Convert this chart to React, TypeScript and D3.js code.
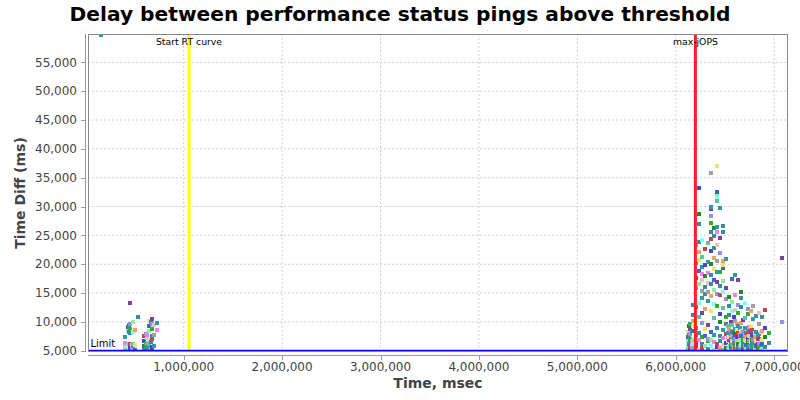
import React from "react";
import * as d3 from "d3";

const title = "Delay between performance status pings above threshold";
const xLabel = "Time, msec";
const yLabel = "Time Diff (ms)";

const xTicks = [1000000, 2000000, 3000000, 4000000, 5000000, 6000000, 7000000];
const yTicks = [5000, 10000, 15000, 20000, 25000, 30000, 35000, 40000, 45000, 50000, 55000];

const startRtCurve = 1054000;
const maxJops = 6200000;
const limitValue = 5000;

// sample times (ms) and the delays (ms) observed at each
const columnTimes = [
  160000,
  405000, 430000, 445000, 455000, 470000, 480000, 505000, 540000,
  600000, 615000, 625000, 650000, 665000, 675000, 700000, 725000,
  6120000, 6135000, 6150000, 6165000, 6180000, 6210000, 6240000, 6270000, 6300000, 6330000,
  6360000, 6390000, 6420000, 6450000, 6485000, 6515000, 6530000, 6545000, 6560000, 6575000,
  6590000, 6605000, 6620000, 6635000, 6650000, 6665000, 6680000, 6700000, 6715000, 6730000,
  6745000, 6760000, 6775000, 6790000, 6805000, 6820000, 6835000,
  6850000, 6865000, 6880000, 6910000, 6945000, 7085000,
];

const columnDelays: number[][] = [
  [59800],
  [5200, 5700, 6400, 7400],
  [5300, 5900, 8500, 9100],
  [5400, 6200, 8200, 9400],
  [5100, 5600, 6100, 8000, 8800, 9600, 13300],
  [5300, 5700, 6000],
  [5400, 5800, 6200, 8300, 9900],
  [5200, 6000, 8600],
  [10900],
  [5300, 5900, 6600, 7500],
  [5500, 6200, 7900],
  [5200, 5700, 6300, 7200, 7800],
  [5400, 6100, 6900, 8400, 9200, 10200],
  [5300, 6500, 9900],
  [5100, 5600, 7000, 7600, 8800, 9700, 10500],
  [5800, 7700, 9400],
  [8600, 9800],
  [5300, 5900, 6600, 7400, 8200],
  [5500, 6200, 7700, 9200],
  [5200, 5700, 6300, 7100, 7900, 8800, 9600],
  [5400, 6000, 6700, 8400],
  [5400, 6100, 6900, 8500, 9300, 10100, 11200, 12900],
  [5600, 6400, 7800, 9000, 12500, 15800, 17600, 20200, 23400],
  [5100, 6800, 8100, 10900, 13300, 16500, 18900, 20800, 22100, 23900, 26900, 28700, 33200],
  [5500, 6200, 7300, 9800, 11600, 14200, 15400, 17200, 18300, 19500, 21300, 24200],
  [5900, 7600, 8700, 12200, 14800, 16100, 17900, 19800, 22600],
  [5300, 6600, 7100, 9400, 13600, 15100, 16700, 18400, 20400, 23700],
  [5800, 6900, 8300, 11900, 14400, 16600, 18100, 20100, 22300, 24400, 25600, 27200, 28300, 29500, 30000, 35900],
  [5200, 6500, 7700, 10600, 13100, 15600, 17300, 19100, 21100, 22800, 24900, 26200],
  [5700, 6100, 8900, 12700, 14900, 16900, 18600, 20600, 23300, 25500, 26400, 31000, 31600, 32100, 32600, 37100],
  [5400, 6700, 7500, 9900, 11300, 14600, 16300, 18700, 21900, 24600, 29700],
  [5100, 6000, 7200, 8600, 12400, 15200, 17000, 19300, 19900, 20500, 25500, 26600],
  [5500, 6300, 7900, 9600, 10800, 13900, 15900, 20900],
  [5300, 6700, 7300, 8100, 9200],
  [5200, 5800, 6800, 7400, 8800, 11200, 12800, 14300],
  [5600, 6200, 7000, 7900, 8500, 9900],
  [5400, 6100, 6700, 7600, 8300, 9500, 11800, 13400, 17400],
  [5200, 5700, 6400, 7200, 8000, 10900],
  [5300, 5900, 6400, 7000, 7800, 8700, 10200, 12100, 14700, 18200],
  [5500, 6000, 6600, 7400, 8600, 9600],
  [5100, 5600, 6200, 7300, 8100, 9200, 11600, 13000, 17300],
  [5400, 5900, 6800, 7700, 8900],
  [5500, 6000, 6600, 7500, 8400, 9800, 12500, 14100, 15200],
  [5200, 5800, 6300, 7100, 8200, 10300],
  [5200, 5800, 6900, 7700, 9000, 10600, 13200],
  [5400, 6000, 6600, 7400, 8100],
  [5400, 6300, 7100, 8000, 8700, 11400, 12300],
  [5300, 5900, 6700, 7500, 9100],
  [5100, 5700, 6500, 7200, 8300, 9300, 11900],
  [5500, 6100, 6900, 7800, 8600],
  [5300, 6000, 6800, 7600, 10500, 12800],
  [5200, 5800, 6400, 7300, 8000],
  [5200, 5900, 6700, 7400, 8200, 11100],
  [5400, 6100, 7000, 7700],
  [5500, 6200, 7000, 7900, 9700, 11500],
  [5300, 5900, 6600, 8300],
  [5300, 6100, 6900, 8500, 10900],
  [5600, 7300, 8900, 12000],
  [6400, 8100],
  [9900, 21000],
];

const pointColors = [
  "#3a8c9c", "#5040d0", "#30b030", "#2c9aa8", "#f080f0", "#80ffff",
  "#e8e870", "#3a8c9c", "#c04848", "#9090f0", "#a0a0a0", "#2c9aa8",
  "#90f090", "#f0a060", "#208c20", "#3a8c9c", "#8040a0", "#f0c0c0",
  "#60c0a0", "#4060e0",
];

const W = 800;
const H = 400;
const plotLeft = 88;
const plotRight = 788;
const plotTop = 34;
const plotBottom = 352;
const font = "'DejaVu Sans', sans-serif";

export default function App() {
  const x = d3.scaleLinear().domain([27400, 7141000]).range([plotLeft, plotRight]);
  const y = d3.scaleLinear().domain([4775, 59916]).range([plotBottom, plotTop]);
  const fmt = d3.format(",");

  const points: { t: number; d: number; i: number }[] = [];
  let k = 0;
  columnTimes.forEach((t, ci) => {
    (columnDelays[ci] || []).forEach((d) => {
      points.push({ t, d, i: k++ });
    });
  });

  const size = 4;
  return (
    <svg width={W} height={H} style={{ position: "absolute", left: 0, top: 0, background: "#fff" }}>
      <defs>
        <clipPath id="plotClip">
          <rect x={plotLeft} y={plotTop} width={plotRight - plotLeft} height={plotBottom - plotTop} />
        </clipPath>
      </defs>
      <rect x={0} y={0} width={W} height={H} fill="#fff" />
      <text x={400} y={21} textAnchor="middle" fontFamily={font} fontWeight="bold" fontSize={20.2} fill="#000">
        {title}
      </text>

      {/* grid */}
      {xTicks.map((t) => (
        <line key={"gx" + t} x1={x(t)} x2={x(t)} y1={plotTop} y2={plotBottom} stroke="#d0d0d0" strokeWidth={1} strokeDasharray="2,2" />
      ))}
      {yTicks.map((t) => (
        <line key={"gy" + t} x1={plotLeft} x2={plotRight} y1={y(t)} y2={y(t)} stroke="#d0d0d0" strokeWidth={1} strokeDasharray="2,2" />
      ))}

      {/* points */}
      <g clipPath="url(#plotClip)">
        {points.map((p) => (
          <rect
            key={"p" + p.i}
            x={Math.round(x(p.t) - size / 2)}
            y={Math.round(y(p.d) - size / 2)}
            width={size}
            height={size}
            fill={pointColors[(p.i * 7 + 3) % pointColors.length]}
          />
        ))}
      </g>

      {/* markers */}
      <line x1={x(startRtCurve)} x2={x(startRtCurve)} y1={plotTop} y2={plotBottom} stroke="#ffff00" strokeWidth={3} />
      <line x1={x(maxJops)} x2={x(maxJops)} y1={plotTop} y2={plotBottom} stroke="#ff2020" strokeWidth={3} />
      <line x1={plotLeft} x2={plotRight} y1={y(limitValue)} y2={y(limitValue)} stroke="#0000ff" strokeWidth={2} />
      <text x={x(startRtCurve)} y={45} textAnchor="middle" fontFamily={font} fontSize={9.3} fill="#000">Start RT curve</text>
      <text x={x(maxJops)} y={45} textAnchor="middle" fontFamily={font} fontSize={9.3} fill="#000">max-jOPS</text>
      <text x={plotLeft + 2.5} y={346.5} fontFamily={font} fontSize={10} fill="#000">Limit</text>

      {/* plot border */}
      <rect x={plotLeft + 0.5} y={plotTop + 0.5} width={plotRight - plotLeft - 1} height={plotBottom - plotTop - 1} fill="none" stroke="#888" strokeWidth={1} />

      {/* y axis */}
      <line x1={85.5} x2={85.5} y1={plotTop} y2={plotBottom} stroke="#999" strokeWidth={1} />
      {yTicks.map((t) => (
        <g key={"yt" + t}>
          <line x1={81} x2={85.5} y1={Math.round(y(t)) + 0.5} y2={Math.round(y(t)) + 0.5} stroke="#999" />
          <text x={77} y={y(t) + 4.3} textAnchor="end" fontFamily={font} fontSize={12} fill="#444">{fmt(t)}</text>
        </g>
      ))}
      <text
        transform={`translate(25,${(plotTop + plotBottom) / 2}) rotate(-90)`}
        textAnchor="middle"
        fontFamily={font}
        fontWeight="bold"
        fontSize={14}
        fill="#444"
      >
        {yLabel}
      </text>

      {/* x axis */}
      <line x1={plotLeft} x2={plotRight} y1={355.5} y2={355.5} stroke="#999" strokeWidth={1} />
      {xTicks.map((t) => (
        <g key={"xt" + t}>
          <line x1={Math.round(x(t)) + 0.5} x2={Math.round(x(t)) + 0.5} y1={355.5} y2={360} stroke="#999" />
          <text x={x(t)} y={371} textAnchor="middle" fontFamily={font} fontSize={12} fill="#444">{fmt(t)}</text>
        </g>
      ))}
      <text x={(plotLeft + plotRight) / 2} y={388} textAnchor="middle" fontFamily={font} fontWeight="bold" fontSize={14} fill="#444">
        {xLabel}
      </text>
    </svg>
  );
}
